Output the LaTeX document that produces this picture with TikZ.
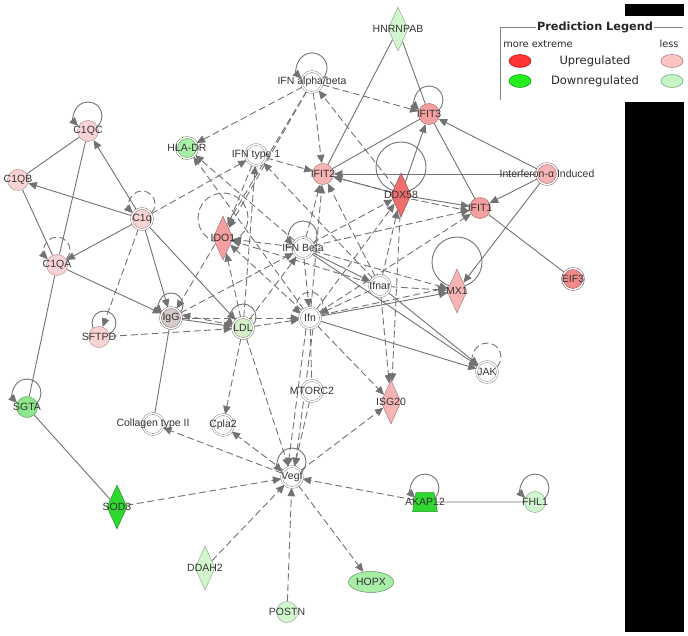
\documentclass[tikz,border=0pt]{standalone}
\usepackage{fontspec}
\setmainfont{Liberation Sans}
\newfontfamily\legendfont{DejaVu Sans}
\usetikzlibrary{arrows.meta, shapes.geometric, backgrounds}

\definecolor{linkgray}{HTML}{727272}
\definecolor{pinkA}{HTML}{FAD4D4}
\definecolor{pinkB}{HTML}{F7B4B4}
\definecolor{pinkC}{HTML}{F4A0A0}
\definecolor{redA}{HTML}{EE6E6E}
\definecolor{redB}{HTML}{F08A8A}
\definecolor{greenA}{HTML}{D2F7D0}
\definecolor{greenB}{HTML}{A8EEA6}
\definecolor{greenC}{HTML}{8CE68A}
\definecolor{greenD}{HTML}{2ED82E}
\definecolor{ldlfill}{HTML}{D6F0CC}
\definecolor{iggfill}{HTML}{D6CACA}
\definecolor{upA}{HTML}{FF3333}
\definecolor{upB}{HTML}{FFC4C4}
\definecolor{downA}{HTML}{22EE22}
\definecolor{downB}{HTML}{C4F7C4}

\tikzset{
  lnk/.style={draw=linkgray, line width=0.9pt},
  arr/.style={-{Triangle[length=8.5pt,width=7.5pt]}},
  act/.style={lnk, arr},
  dsh/.style={lnk, dash pattern=on 7pt off 3.5pt},
  dact/.style={dsh, arr},
  mol/.style={circle, minimum size=21pt, inner sep=0pt, fill=#1,
              draw=#1!70!black, line width=0.5pt},
  grp/.style={circle, minimum size=21pt, inner sep=0pt, fill=#1,
              draw=#1!55!black, line width=0.5pt, double=white, double distance=1.4pt},
  dia/.style={diamond, minimum width=20pt, minimum height=44pt, inner sep=0pt,
              fill=#1, draw=#1!70!black, line width=0.5pt},
  lbl/.style={font=\fontsize{10.5}{12}\selectfont, text=black!80, inner sep=0pt},
  lgkey/.style={ellipse, minimum width=22pt, minimum height=13pt, inner sep=0pt,
                fill=#1, draw=#1!60!black, line width=0.5pt},
  lgtext/.style={font=\legendfont\fontsize{#1}{13}\selectfont, text=black!85, inner sep=1pt}
}

\begin{document}
\begin{tikzpicture}[x=1pt, y=-1pt]
\useasboundingbox (0,0) rectangle (688,636);

% molecules
\node[dia=greenA, label={[lbl]center:HNRNPAB}] (hnrnpab) at (398,29) {};
\node[grp=white, label={[lbl]center:IFN alpha/beta}] (ifnab) at (312,82) {};
\node[mol=pinkC, label={[lbl]center:IFIT3}] (ifit3) at (429,114) {};
\node[mol=pinkA, label={[lbl]center:C1QC}] (c1qc) at (88,131) {};
\node[grp=greenB, label={[lbl]center:HLA-DR}] (hladr) at (187,148) {};
\node[grp=white, label={[lbl]center:IFN type 1}] (ifnt1) at (256,155) {};
\node[mol=pinkB, label={[lbl]center:IFIT2}] (ifit2) at (323,174) {};
\node[dia=redA, label={[lbl]center:DDX58}] (ddx58) at (401,195) {};
\node[grp=pinkB, label={[lbl]center:Interferon-α Induced}] (ifnai) at (547,174) {};
\node[mol=pinkC, label={[lbl]center:IFIT1}] (ifit1) at (480,208) {};
\node[mol=pinkA, label={[lbl]center:C1QB}] (c1qb) at (18,180) {};
\node[grp=pinkA, label={[lbl]center:C1q}] (c1q) at (142,219) {};
\node[dia=pinkC, label={[lbl]center:IDO1}] (ido1) at (223,238) {};
\node[grp=white, label={[lbl]center:IFN Beta}] (ifnb) at (303,248) {};
\node[grp=white, label={[lbl]center:Ifnar}] (ifnar) at (380,286) {};
\node[dia=pinkB, label={[lbl]center:MX1}] (mx1) at (457,291) {};
\node[grp=redB, label={[lbl]center:EIF3}] (eif3) at (573,279) {};
\node[mol=pinkA, label={[lbl]center:C1QA}] (c1qa) at (57,265) {};
\node[mol=pinkA, label={[lbl]center:SFTPD}] (sftpd) at (99,337) {};
\node[grp=iggfill, label={[lbl]center:IgG}] (igg) at (171,318) {};
\node[grp=ldlfill, label={[lbl]center:LDL}] (ldl) at (243,328) {};
\node[grp=white, label={[lbl]center:Ifn}] (ifn) at (310,318) {};
\node[grp=white, label={[lbl]center:JAK}] (jak) at (487,372) {};
\node[mol=greenC, label={[lbl]center:SGTA}] (sgta) at (27,407) {};
\node[grp=white, label={[lbl]center:MTORC2}] (mtorc2) at (312,391) {};
\node[dia=pinkB, label={[lbl]center:ISG20}] (isg20) at (391,402) {};
\node[grp=white, label={[lbl]center:Collagen type II}] (col2) at (153,424) {};
\node[grp=white, label={[lbl]center:Cpla2}] (cpla2) at (223,425) {};
\node[grp=white, label={[lbl]center:Vegf}] (vegf) at (292,477) {};
\node[dia=greenD, label={[lbl]center:SOD3}] (sod3) at (117,507) {};
\node[trapezium, trapezium angle=80, minimum width=23pt, minimum height=19pt,
      inner sep=0pt, fill=greenD, draw=greenD!70!black, line width=0.5pt,
      label={[lbl]center:AKAP12}] (akap12) at (425,502) {\phantom{x}};
\node[mol=greenA, label={[lbl]center:FHL1}] (fhl1) at (535,502) {};
\node[dia=greenA, label={[lbl]center:DDAH2}] (ddah2) at (205,568) {};
\node[ellipse, minimum width=45pt, minimum height=21pt, inner sep=0pt, fill=greenB,
      draw=greenB!60!black, line width=0.5pt, label={[lbl]center:HOPX}] (hopx) at (371,582) {};
\node[mol=greenA, label={[lbl]center:POSTN}] (postn) at (287,612) {};

\begin{scope}[on background layer]
  % self loops
  \foreach \n/\up/\r in {c1qc/15/14, igg/13/12, ldl/11/13, ifnb/13/14, ifnab/14/15,
                         ifit3/14/14, sgta/14/14, vegf/15/14, akap12/14/14, fhl1/14/14}
    \draw[act] ([yshift=\up pt]\n.center) ++(-45:\r pt) arc[start angle=-45, end angle=225, radius=\r pt];
  \foreach \n/\up/\r in {c1q/15/13, c1qa/15/13, ifn/13/13, jak/15/14}
    \draw[dact] ([yshift=\up pt]\n.center) ++(-45:\r pt) arc[start angle=-45, end angle=225, radius=\r pt];
  \draw[lnk] ([yshift=28pt]ddx58.center) circle[radius=25pt];
  \draw[lnk] ([yshift=29pt]mx1.center) circle[radius=25pt];
  \draw[dsh] ([yshift=20pt]ido1.center) circle[radius=25pt];
  \draw[lnk] ([xshift=5pt, yshift=14pt]sftpd.center) circle[radius=12pt];

  % plain links
  \foreach \a/\b in {c1qc/c1qb, c1qc/c1qa, c1qb/c1qa, c1qa/sgta, sgta/sod3, igg/col2,
                     hnrnpab/ifit2, hnrnpab/ifit3, ifit2/ifit3, ifit3/ifit1, ifit1/eif3,
                     akap12/fhl1}
    \draw[lnk] (\a) -- (\b);

  % solid arrows
  \foreach \a/\b in {c1q/c1qc, c1q/c1qb, c1q/c1qa, c1q/igg, c1q/ldl, c1qa/igg, igg/ldl,
                     ifnai/ifit3, ifnai/ifit2, ifnai/ifit1, ifnai/mx1, ddx58/ifit2,
                     ddx58/ifit1, ddx58/ifit3, ifnb/ifnar, ifnar/jak, ifn/jak, ifnb/jak,
                     ifn/mx1}
    \draw[act] (\a) -- (\b);

  % dashed arrows
  \foreach \a/\b in {ifnab/hladr, ifnab/ifit3, ifnab/ifit2, ifnab/igg, ifnab/ido1,
                     ddx58/ifnab, c1q/ifnt1, c1q/sftpd, ifnt1/ifit2, ifnt1/ido1,
                     ldl/ifnt1, ifnar/ifnt1, ifnb/hladr, ifn/hladr, ifnb/ido1, ifn/ido1,
                     ifnar/ido1, ldl/ido1, ifnb/ifit2, ifn/ifit2, ifnar/ifit2,
                     ifnb/ddx58, ifn/ddx58, ifnar/ddx58, ifnb/ifit1, ifn/ifit1,
                     ifnb/mx1, ifnar/mx1, ifnb/ifn, ldl/ifnb, igg/ifnb, ifnar/ifn,
                     ifnar/isg20, ddx58/isg20, ifn/isg20, vegf/isg20, igg/ifn, ldl/ifn,
                     sftpd/ldl, ldl/cpla2, ldl/vegf, mtorc2/vegf, vegf/col2,
                     vegf/cpla2, vegf/hopx, sod3/vegf, ddah2/vegf, postn/vegf,
                     akap12/vegf}
    \draw[dact] (\a) -- (\b);

  % doubled links
  \draw[dact] ([yshift=3pt]ldl.west) -- ([yshift=3pt]igg.east);
  \draw[dact] ([yshift=3pt]ifn.east) -- ([yshift=3pt]mx1.west);
  \draw[dact] ([yshift=3pt]ddx58.west) -- ([yshift=-3pt]ifit2.east);
  \draw[dact] ([yshift=-4pt]ddx58.east) -- ([yshift=-3pt]ifit1.west);
  \draw[dact] ([xshift=-4pt]ifn.south) -- ([xshift=-4pt]vegf.north);
  \draw[dact] ([xshift=3pt]ifn.south) -- ([xshift=3pt]vegf.north);
  \draw[dsh] (ifn) -- (mtorc2);
\end{scope}

% legend
\coordinate (lgtl) at (500,27);
\coordinate (lgbl) at (500,100);
\coordinate (lgtr) at (683,27);
\node[lgtext=11.3, font=\legendfont\bfseries\fontsize{11.3}{13}\selectfont] (lgtitle) at (595,27) {Prediction Legend};
\draw[gray, line width=0.6pt] (lgtitle.west) -- (lgtl) -- (lgbl);
\draw[gray, line width=0.6pt] (lgtitle.east) -- (lgtr);
\node[lgtext=9.8] (lgmore) at (538,44) {more extreme};
\node[lgtext=9.8] (lgless) at (669,44) {less};
\node[lgkey=upA] (lgupA) at (520,61) {};
\node[lgkey=downA] (lgdownA) at (520,81) {};
\node[lgkey=upB] (lgupB) at (672,61) {};
\node[lgkey=downB] (lgdownB) at (672,81) {};
\node[lgtext=11.5] (lgup) at (595,61) {Upregulated};
\node[lgtext=11.5] (lgdown) at (595,81) {Downregulated};

% masked areas
\fill[black] (625,4) rectangle (684,16);
\fill[black] (625,102) rectangle (684,632);
\end{tikzpicture}
\end{document}
